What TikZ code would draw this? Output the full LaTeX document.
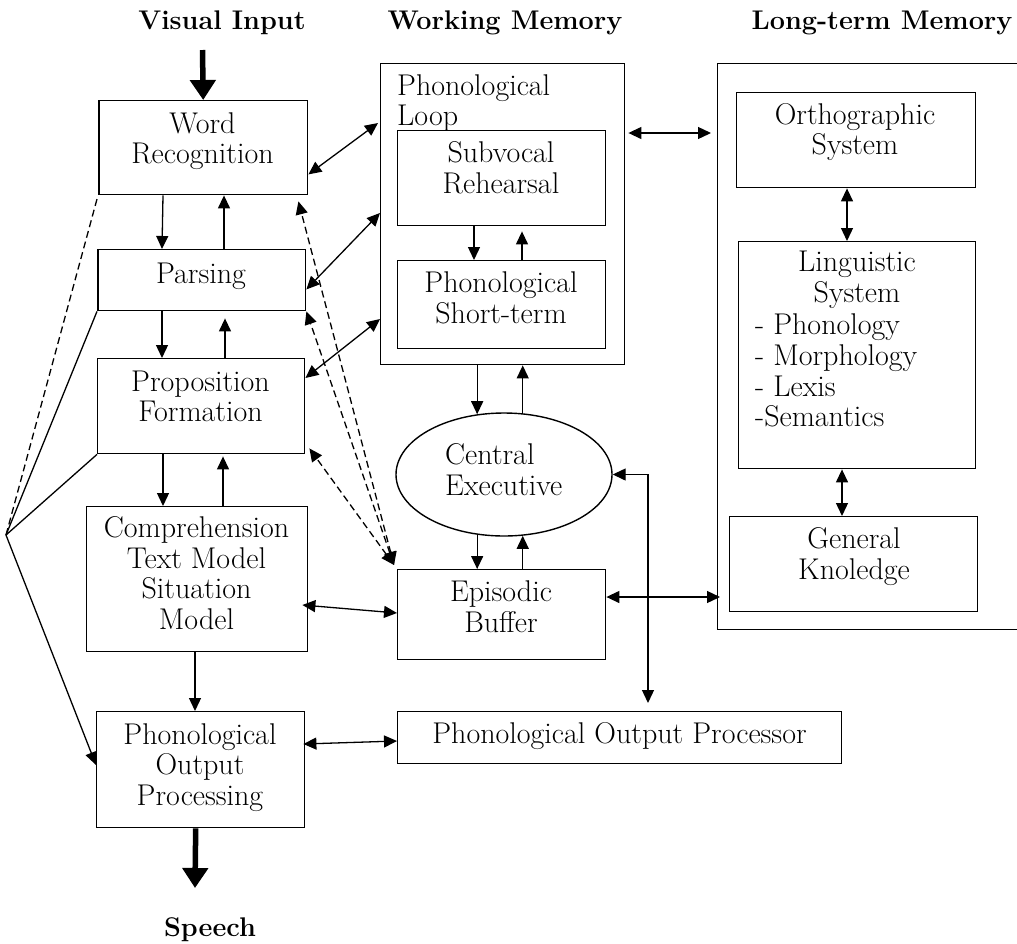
\documentclass[tikz,border=0pt]{standalone}
\usetikzlibrary{arrows.meta,shapes.geometric,calc}
\begin{document}
\begin{tikzpicture}[x=1pt,y=-1pt,
  font=\fontsize{30}{30.7}\selectfont,
  box/.style={draw, line width=1.4pt, inner sep=0pt, anchor=north west},
  lbl/.style={align=center, inner sep=0pt},
  lbll/.style={align=left, inner sep=0pt, anchor=west},
  head/.style={font=\fontsize{27}{30}\selectfont\bfseries, inner sep=0pt, anchor=base},
  line/.style={line width=1.3pt},
  dline/.style={line width=1.3pt, dash pattern=on 7pt off 4pt},
  arr/.style={line width=1.3pt, -{Triangle[length=13pt,width=12pt]}},
  darr/.style={line width=1.3pt, {Triangle[length=13pt,width=12pt]}-{Triangle[length=13pt,width=12pt]}},
  ddarr/.style={darr, dash pattern=on 7pt off 4pt},
  bigarr/.style={line width=5.5pt, -{Triangle[length=20pt,width=25pt]}}]
\useasboundingbox (0,0) rectangle (1017,943);

% headings
\node[head] (hvis) at (222,29) {Visual Input};
\node[head] (hwm) at (505,29) {Working Memory};
\node[head] (hltm) at (882,29) {Long-term Memory};
\node[head] (hsp) at (210,936) {Speech};

% reading process column
\node[box, minimum width=209pt, minimum height=94pt] (wr) at (98,100) {};
\node[box, minimum width=208pt, minimum height=61pt] (pars) at (97,249) {};
\node[box, minimum width=207pt, minimum height=95pt] (prop) at (97,358) {};
\node[box, minimum width=221pt, minimum height=145pt] (comp) at (86,506) {};
\node[box, minimum width=208pt, minimum height=116pt] (pop) at (96,711) {};
\draw[line width=2.6pt] ([xshift=1pt]wr.north west) -- ([xshift=1pt]wr.south west);
\draw[line width=2.6pt] ([xshift=1pt]pars.north west) -- ([xshift=1pt]pars.south west);

\node[lbl] (wr-t) at (202.5,141) {Word\\Recognition};
\node[lbl] (pars-t) at (201,276) {Parsing};
\node[lbl] (prop-t) at (200.5,396.5) {Proposition\\Formation};
\node[lbl] (comp-t) at (196.5,573) {Comprehension\\Text Model\\Situation\\Model};
\node[lbl] (pop-t) at (200,767.5) {Phonological\\Output\\Processing};

% working memory
\node[box, minimum width=244pt, minimum height=301pt] (wm) at (380,63) {};
\node[lbll] (wm-t) at (397,103) {Phonological\\Loop};
\node[box, minimum width=208pt, minimum height=95pt] (subv) at (397,130) {};
\node[lbl] (subv-t) at (501,167.5) {Subvocal\\Rehearsal};
\node[box, minimum width=208pt, minimum height=88pt] (pst) at (397,260) {};
\node[lbl] (pst-t) at (501,297.5) {Phonological\\Short-term};
\node[draw, ellipse, line width=1.4pt, inner sep=0pt, minimum width=216pt, minimum height=123pt] (ce) at (504,474.5) {};
\node[lbll] (ce-t) at (445,469.5) {Central\\Executive};
\node[box, minimum width=208pt, minimum height=90pt] (eb) at (397,569) {};
\node[lbl] (eb-t) at (501,607) {Episodic\\Buffer};
\node[box, minimum width=444pt, minimum height=52pt] (popr) at (397,711) {};
\node[lbl] (popr-t) at (619.5,736.5) {Phonological Output Processor};

% long-term memory
\node[box, minimum width=330pt, minimum height=566pt] (ltm) at (717,63) {};
\node[box, minimum width=239pt, minimum height=95pt] (orth) at (736,92) {};
\node[lbl] (orth-t) at (855,132) {Orthographic\\System};
\node[box, minimum width=237pt, minimum height=227pt] (ling) at (738,241) {};
\node[lbl] (ling-t) at (857,280) {Linguistic\\System};
\node[lbll] (ling-l) at (755,370.5) {- Phonology\\- Morphology\\- Lexis\\-Semantics};
\node[box, minimum width=248pt, minimum height=95pt] (gk) at (729,516) {};
\node[lbl] (gk-t) at (854,556.5) {General\\Knoledge};

% input and output
\coordinate (vin) at (202.5,50);
\coordinate (spk) at (195,888);
\draw[bigarr] (vin) -- (wr.north);
\draw[bigarr] ([xshift=-5pt]pop.south) -- (spk);

% flow down the reading column
\draw[arr] ([xshift=65pt]wr.south west) -- ([xshift=65pt]pars.north west);
\draw[arr] ([xshift=127pt]pars.north west) -- ([xshift=126pt]wr.south west);
\draw[arr] ([xshift=65pt]pars.south west) -- ([xshift=65pt]prop.north west);
\draw[arr] ([xshift=128pt]prop.north west) -- ([xshift=128pt,yshift=-7pt]pars.south west);
\draw[arr] ([xshift=66pt]prop.south west) -- ([xshift=77pt]comp.north west);
\draw[arr] ([xshift=137pt]comp.north west) -- ([xshift=126pt,yshift=-2pt]prop.south west);
\draw[arr] ([xshift=109pt]comp.south west) -- ([xshift=99pt]pop.north west);

% links into working memory
\draw[darr] ([yshift=21pt]wr.south east) -- ([xshift=-2pt,yshift=-60pt]wm.north west);
\draw[darr] ([yshift=22pt]pars.south east) -- ([yshift=-150pt]wm.north west);
\draw[darr] ([yshift=-20pt]prop.north east) -- ([yshift=-256pt]wm.north west);
\draw[darr] ([xshift=-6pt,yshift=-99pt]comp.north east) -- ([yshift=-44pt]eb.north west);
\draw[darr] ([xshift=-2pt,yshift=-33pt]pop.north east) -- ([yshift=-30pt]popr.north west);

% episodic buffer to the reading column
\draw[ddarr] ([xshift=-3pt,yshift=4pt]eb.north west) -- ([xshift=-10pt,yshift=-6pt]wr.south east);
\draw[ddarr] ([xshift=-3pt,yshift=4pt]eb.north west) -- (pars.south east);
\draw[ddarr] ([xshift=-3pt,yshift=4pt]eb.north west) -- ([xshift=4pt,yshift=6pt]prop.south east);

% inside working memory
\draw[arr] ([xshift=77pt]subv.south west) -- ([xshift=77pt]pst.north west);
\draw[arr] ([xshift=125pt]pst.north west) -- ([xshift=125pt,yshift=-5pt]subv.south west);
\draw[arr] (wm.south -| ce.114) -- (ce.114);
\draw[arr] (ce.73) -- (wm.south -| ce.73);
\draw[arr] (ce.-114) -- (eb.north -| ce.-114);
\draw[arr] (eb.north -| ce.-73) -- (ce.-73);
\draw[darr] (ce.east) -| ([xshift=251pt,yshift=8pt]popr.north west);

% working memory to long-term memory
\draw[darr] ([xshift=3pt,yshift=-70pt]wm.north east) -- ([xshift=-6pt,yshift=-70pt]ltm.north west);
\draw[darr] ([yshift=-28pt]eb.north east) -- ([xshift=3pt,yshift=-534pt]ltm.north west);
\draw[darr] ([xshift=111pt]orth.south west) -- ([xshift=109pt]ling.north west);
\draw[darr] ([xshift=104pt]ling.south west) -- ([xshift=113pt]gk.north west);

% bracket joining the reading stages
\coordinate (j) at (6,535);
\draw[dline] (j) -- (wr.south west);
\draw[line] (j) -- (pars.south west);
\draw[line] (j) -- (prop.south west);
\draw[arr] (j) -- ([yshift=-54pt]pop.north west);
\end{tikzpicture}
\end{document}
